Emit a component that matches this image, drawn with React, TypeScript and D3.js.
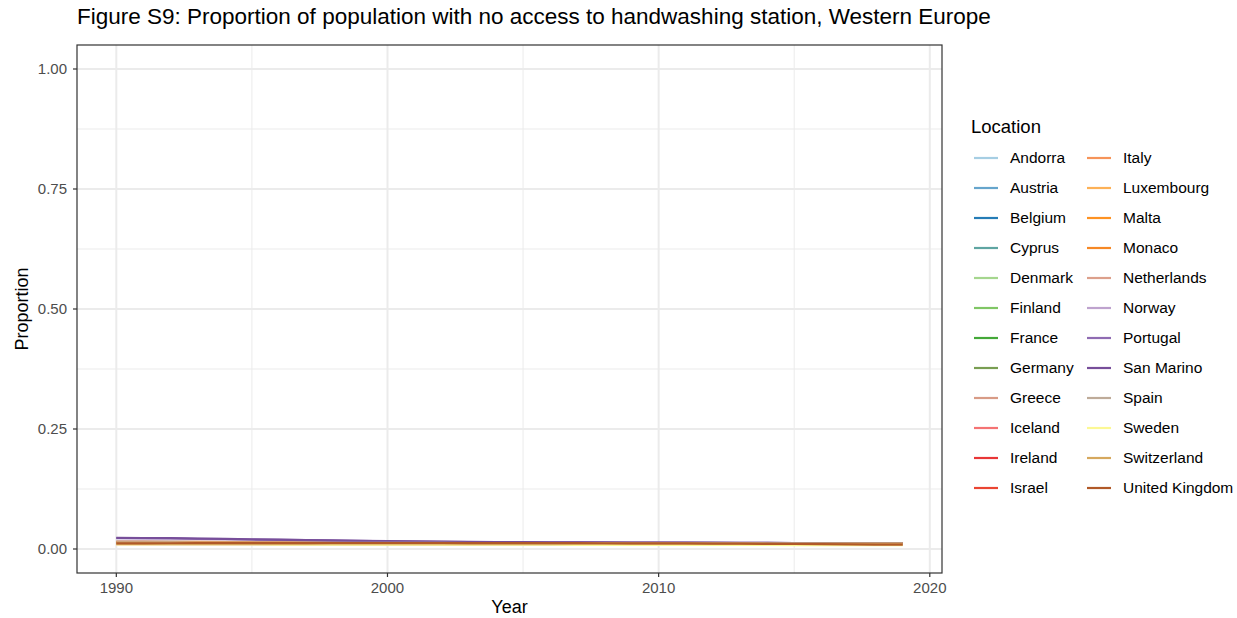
import React from "react";
import * as d3 from "d3";

const years = d3.range(1990, 2020);

const locations = [
  "Andorra", "Austria", "Belgium", "Cyprus", "Denmark", "Finland", "France", "Germany",
  "Greece", "Iceland", "Ireland", "Israel", "Italy", "Luxembourg", "Malta", "Monaco",
  "Netherlands", "Norway", "Portugal", "San Marino", "Spain", "Sweden", "Switzerland", "United Kingdom",
];

const colors = [
  "#A6CEE3", "#66A5CC", "#257CB6", "#5FA5A2", "#A5D68E", "#80C665", "#44A838", "#799E52",
  "#D89B86", "#F47373", "#E83637", "#EA4532", "#F69459", "#FDB157", "#FE9222", "#F68825",
  "#DCA08B", "#BEA3CE", "#8F6BB2", "#774E9A", "#BEAB99", "#FCF894", "#D6A85E", "#B15928",
];

const andorra = [0.0125,0.0124,0.0124,0.0123,0.0122,0.0122,0.0121,0.0121,0.0120,0.0119,0.0119,0.0118,0.0118,0.0117,0.0116,0.0116,0.0115,0.0114,0.0114,0.0113,0.0112,0.0111,0.0111,0.0110,0.0109,0.0108,0.0107,0.0106,0.0105,0.0104];
const austria = [0.0112,0.0112,0.0111,0.0111,0.0110,0.0110,0.0110,0.0109,0.0109,0.0108,0.0108,0.0108,0.0107,0.0107,0.0106,0.0106,0.0105,0.0105,0.0104,0.0104,0.0103,0.0102,0.0102,0.0101,0.0100,0.0099,0.0098,0.0097,0.0096,0.0095];
const belgium = [0.0120,0.0120,0.0119,0.0119,0.0118,0.0118,0.0117,0.0117,0.0116,0.0116,0.0115,0.0115,0.0114,0.0114,0.0113,0.0113,0.0112,0.0112,0.0111,0.0110,0.0110,0.0109,0.0108,0.0107,0.0106,0.0105,0.0104,0.0103,0.0102,0.0101];
const cyprus = [0.0150,0.0149,0.0147,0.0145,0.0143,0.0141,0.0139,0.0137,0.0135,0.0133,0.0131,0.0130,0.0129,0.0128,0.0127,0.0126,0.0125,0.0124,0.0123,0.0122,0.0121,0.0120,0.0119,0.0118,0.0117,0.0116,0.0115,0.0114,0.0113,0.0112];
const denmark = [0.0105,0.0105,0.0105,0.0104,0.0104,0.0104,0.0103,0.0103,0.0103,0.0102,0.0102,0.0101,0.0101,0.0100,0.0100,0.0099,0.0099,0.0098,0.0098,0.0097,0.0096,0.0096,0.0095,0.0094,0.0093,0.0092,0.0091,0.0090,0.0089,0.0088];
const finland = [0.0108,0.0108,0.0107,0.0107,0.0107,0.0106,0.0106,0.0106,0.0105,0.0105,0.0104,0.0104,0.0103,0.0103,0.0102,0.0102,0.0101,0.0101,0.0100,0.0099,0.0099,0.0098,0.0097,0.0096,0.0095,0.0094,0.0093,0.0092,0.0091,0.0090];
const france = [0.0118,0.0118,0.0117,0.0117,0.0116,0.0116,0.0115,0.0115,0.0114,0.0114,0.0113,0.0113,0.0112,0.0112,0.0111,0.0111,0.0110,0.0110,0.0109,0.0108,0.0108,0.0107,0.0106,0.0105,0.0104,0.0103,0.0102,0.0101,0.0100,0.0099];
const germany = [0.0110,0.0110,0.0110,0.0109,0.0109,0.0109,0.0108,0.0108,0.0108,0.0107,0.0107,0.0106,0.0106,0.0105,0.0105,0.0104,0.0104,0.0103,0.0103,0.0102,0.0101,0.0101,0.0100,0.0099,0.0098,0.0097,0.0096,0.0095,0.0094,0.0093];
const greece = [0.0160,0.0158,0.0156,0.0154,0.0151,0.0149,0.0146,0.0144,0.0142,0.0140,0.0138,0.0136,0.0135,0.0133,0.0132,0.0131,0.0130,0.0129,0.0128,0.0127,0.0126,0.0125,0.0124,0.0123,0.0122,0.0121,0.0120,0.0119,0.0118,0.0117];
const iceland = [0.0102,0.0102,0.0102,0.0101,0.0101,0.0101,0.0100,0.0100,0.0100,0.0099,0.0099,0.0098,0.0098,0.0097,0.0097,0.0096,0.0096,0.0095,0.0095,0.0094,0.0093,0.0093,0.0092,0.0091,0.0090,0.0089,0.0088,0.0087,0.0086,0.0085];
const ireland = [0.0122,0.0122,0.0121,0.0121,0.0120,0.0120,0.0119,0.0119,0.0118,0.0118,0.0117,0.0117,0.0116,0.0116,0.0115,0.0114,0.0114,0.0113,0.0112,0.0112,0.0111,0.0110,0.0109,0.0108,0.0107,0.0106,0.0105,0.0104,0.0103,0.0102];
const israel = [0.0135,0.0134,0.0133,0.0132,0.0131,0.0130,0.0129,0.0128,0.0127,0.0126,0.0125,0.0124,0.0123,0.0123,0.0122,0.0121,0.0120,0.0120,0.0119,0.0118,0.0117,0.0116,0.0115,0.0114,0.0113,0.0112,0.0111,0.0110,0.0109,0.0108];
const italy = [0.0140,0.0139,0.0138,0.0137,0.0135,0.0134,0.0133,0.0132,0.0130,0.0129,0.0128,0.0127,0.0126,0.0125,0.0125,0.0124,0.0123,0.0122,0.0121,0.0120,0.0119,0.0118,0.0117,0.0116,0.0115,0.0114,0.0113,0.0112,0.0111,0.0110];
const luxembourg = [0.0106,0.0106,0.0106,0.0105,0.0105,0.0105,0.0104,0.0104,0.0104,0.0103,0.0103,0.0102,0.0102,0.0101,0.0101,0.0100,0.0100,0.0099,0.0099,0.0098,0.0097,0.0097,0.0096,0.0095,0.0094,0.0093,0.0092,0.0091,0.0090,0.0089];
const malta = [0.0145,0.0144,0.0142,0.0140,0.0138,0.0136,0.0134,0.0132,0.0131,0.0129,0.0128,0.0127,0.0126,0.0125,0.0124,0.0123,0.0122,0.0121,0.0120,0.0119,0.0118,0.0118,0.0117,0.0116,0.0115,0.0114,0.0113,0.0112,0.0111,0.0110];
const monaco = [0.0115,0.0115,0.0114,0.0114,0.0113,0.0113,0.0112,0.0112,0.0111,0.0111,0.0110,0.0110,0.0109,0.0109,0.0108,0.0108,0.0107,0.0107,0.0106,0.0105,0.0105,0.0104,0.0103,0.0102,0.0101,0.0100,0.0099,0.0098,0.0097,0.0096];
const netherlands = [0.0100,0.0100,0.0100,0.0099,0.0099,0.0099,0.0098,0.0098,0.0098,0.0097,0.0097,0.0096,0.0096,0.0095,0.0095,0.0094,0.0094,0.0093,0.0093,0.0092,0.0091,0.0091,0.0090,0.0089,0.0088,0.0087,0.0086,0.0085,0.0084,0.0083];
const norway = [0.0104,0.0104,0.0103,0.0103,0.0103,0.0102,0.0102,0.0102,0.0101,0.0101,0.0100,0.0100,0.0099,0.0099,0.0098,0.0098,0.0097,0.0097,0.0096,0.0095,0.0095,0.0094,0.0093,0.0092,0.0091,0.0090,0.0089,0.0088,0.0087,0.0086];
const portugal = [0.0225,0.0223,0.0220,0.0212,0.0205,0.0198,0.0190,0.0183,0.0176,0.0168,0.0160,0.0155,0.0150,0.0146,0.0143,0.0140,0.0138,0.0136,0.0134,0.0133,0.0132,0.0131,0.0130,0.0128,0.0126,0.0124,0.0122,0.0120,0.0118,0.0116];
const sanMarino = [0.0230,0.0229,0.0226,0.0219,0.0210,0.0201,0.0194,0.0186,0.0178,0.0170,0.0162,0.0157,0.0152,0.0148,0.0145,0.0142,0.0140,0.0138,0.0136,0.0135,0.0134,0.0133,0.0131,0.0129,0.0127,0.0125,0.0122,0.0119,0.0116,0.0113];
const spain = [0.0138,0.0137,0.0136,0.0135,0.0134,0.0133,0.0132,0.0131,0.0130,0.0129,0.0128,0.0127,0.0126,0.0125,0.0124,0.0124,0.0123,0.0122,0.0121,0.0120,0.0119,0.0118,0.0117,0.0116,0.0115,0.0114,0.0113,0.0112,0.0111,0.0110];
const sweden = [0.0095,0.0095,0.0095,0.0094,0.0094,0.0094,0.0093,0.0093,0.0093,0.0092,0.0092,0.0091,0.0091,0.0090,0.0090,0.0089,0.0089,0.0088,0.0088,0.0087,0.0086,0.0086,0.0085,0.0084,0.0083,0.0082,0.0081,0.0080,0.0079,0.0078];
const switzerland = [0.0114,0.0114,0.0114,0.0114,0.0114,0.0114,0.0114,0.0114,0.0114,0.0114,0.0114,0.0114,0.0114,0.0113,0.0113,0.0113,0.0113,0.0113,0.0113,0.0113,0.0112,0.0112,0.0112,0.0112,0.0112,0.0112,0.0112,0.0112,0.0111,0.0111];
const unitedKingdom = [0.0118,0.0119,0.0120,0.0121,0.0122,0.0123,0.0124,0.0124,0.0125,0.0125,0.0125,0.0125,0.0125,0.0124,0.0124,0.0123,0.0122,0.0121,0.0120,0.0119,0.0118,0.0116,0.0114,0.0111,0.0108,0.0104,0.0100,0.0096,0.0093,0.0090];

const seriesValues = [
  andorra, austria, belgium, cyprus, denmark, finland, france, germany,
  greece, iceland, ireland, israel, italy, luxembourg, malta, monaco,
  netherlands, norway, portugal, sanMarino, spain, sweden, switzerland, unitedKingdom,
];

const xTicks = [1990, 2000, 2010, 2020];
const yTicks = [0, 0.25, 0.5, 0.75, 1];
const xMinor = [1995, 2005, 2015];
const yMinor = [0.125, 0.375, 0.625, 0.875];

const title = "Figure S9: Proportion of population with no access to handwashing station, Western Europe";
const FONT = "'Liberation Sans', Arial, Helvetica, sans-serif";

export default function App() {
  const W = 1237, H = 618;
  const panel = { left: 77, right: 942, top: 45, bottom: 573 };
  const xr = 2019 - 1990;
  const x = d3.scaleLinear().domain([1990 - xr * 0.05, 2019 + xr * 0.05]).range([panel.left, panel.right]);
  const y = d3.scaleLinear().domain([-0.05, 1.05]).range([panel.bottom, panel.top]);
  const line = d3.line<number>().x((_, i) => x(years[i])).y((d) => y(d));

  const legendX0 = 974, legendX1 = 1087, legendY0 = 158, rowH = 30;

  return (
    <svg width={W} height={H} style={{ position: "absolute", left: 0, top: 0, background: "#fff" }} fontFamily={FONT}>
      <rect x={0} y={0} width={W} height={H} fill="#fff" />
      <text x={77} y={24} fontSize={22.5} fill="#000">{title}</text>
      {/* grid */}
      {xMinor.map((t) => (
        <line key={"xm" + t} x1={x(t)} x2={x(t)} y1={panel.top} y2={panel.bottom} stroke="#ebebeb" strokeWidth={1} />
      ))}
      {yMinor.map((t) => (
        <line key={"ym" + t} x1={panel.left} x2={panel.right} y1={y(t)} y2={y(t)} stroke="#ebebeb" strokeWidth={1} />
      ))}
      {xTicks.map((t) => (
        <line key={"xg" + t} x1={x(t)} x2={x(t)} y1={panel.top} y2={panel.bottom} stroke="#ebebeb" strokeWidth={2} />
      ))}
      {yTicks.map((t) => (
        <line key={"yg" + t} x1={panel.left} x2={panel.right} y1={y(t)} y2={y(t)} stroke="#ebebeb" strokeWidth={2} />
      ))}
      {/* series */}
      {seriesValues.map((vals, i) => (
        <path key={locations[i]} d={line(vals) || ""} fill="none" stroke={colors[i]} strokeWidth={2.2} />
      ))}
      {/* border */}
      <rect x={panel.left} y={panel.top} width={panel.right - panel.left} height={panel.bottom - panel.top} fill="none" stroke="#333" strokeWidth={1.2} />
      {/* y axis */}
      {yTicks.map((t) => (
        <g key={"yt" + t}>
          <line x1={panel.left - 4} x2={panel.left} y1={y(t)} y2={y(t)} stroke="#333" strokeWidth={1.2} />
          <text x={panel.left - 10} y={y(t)} dy="0.35em" textAnchor="end" fontSize={15} fill="#4d4d4d">{t.toFixed(2)}</text>
        </g>
      ))}
      {xTicks.map((t) => (
        <g key={"xt" + t}>
          <line x1={x(t)} x2={x(t)} y1={panel.bottom} y2={panel.bottom + 4} stroke="#333" strokeWidth={1.2} />
          <text x={x(t)} y={panel.bottom + 20} textAnchor="middle" fontSize={15} fill="#4d4d4d">{t}</text>
        </g>
      ))}
      <text x={(panel.left + panel.right) / 2} y={613} textAnchor="middle" fontSize={18} fill="#000">Year</text>
      <text transform={`translate(28, ${(panel.top + panel.bottom) / 2}) rotate(-90)`} textAnchor="middle" fontSize={18} fill="#000">Proportion</text>
      {/* legend */}
      <text x={971} y={133} fontSize={18.5} fill="#000">Location</text>
      {locations.map((loc, i) => {
        const col = Math.floor(i / 12);
        const row = i % 12;
        const kx = col === 0 ? legendX0 : legendX1;
        const ky = legendY0 + row * rowH;
        return (
          <g key={"lg" + loc}>
            <line x1={kx} x2={kx + 24} y1={ky} y2={ky} stroke={colors[i]} strokeWidth={2.2} />
            <text x={kx + 36} y={ky} dy="0.35em" fontSize={15.5} fill="#000">{loc}</text>
          </g>
        );
      })}
    </svg>
  );
}
